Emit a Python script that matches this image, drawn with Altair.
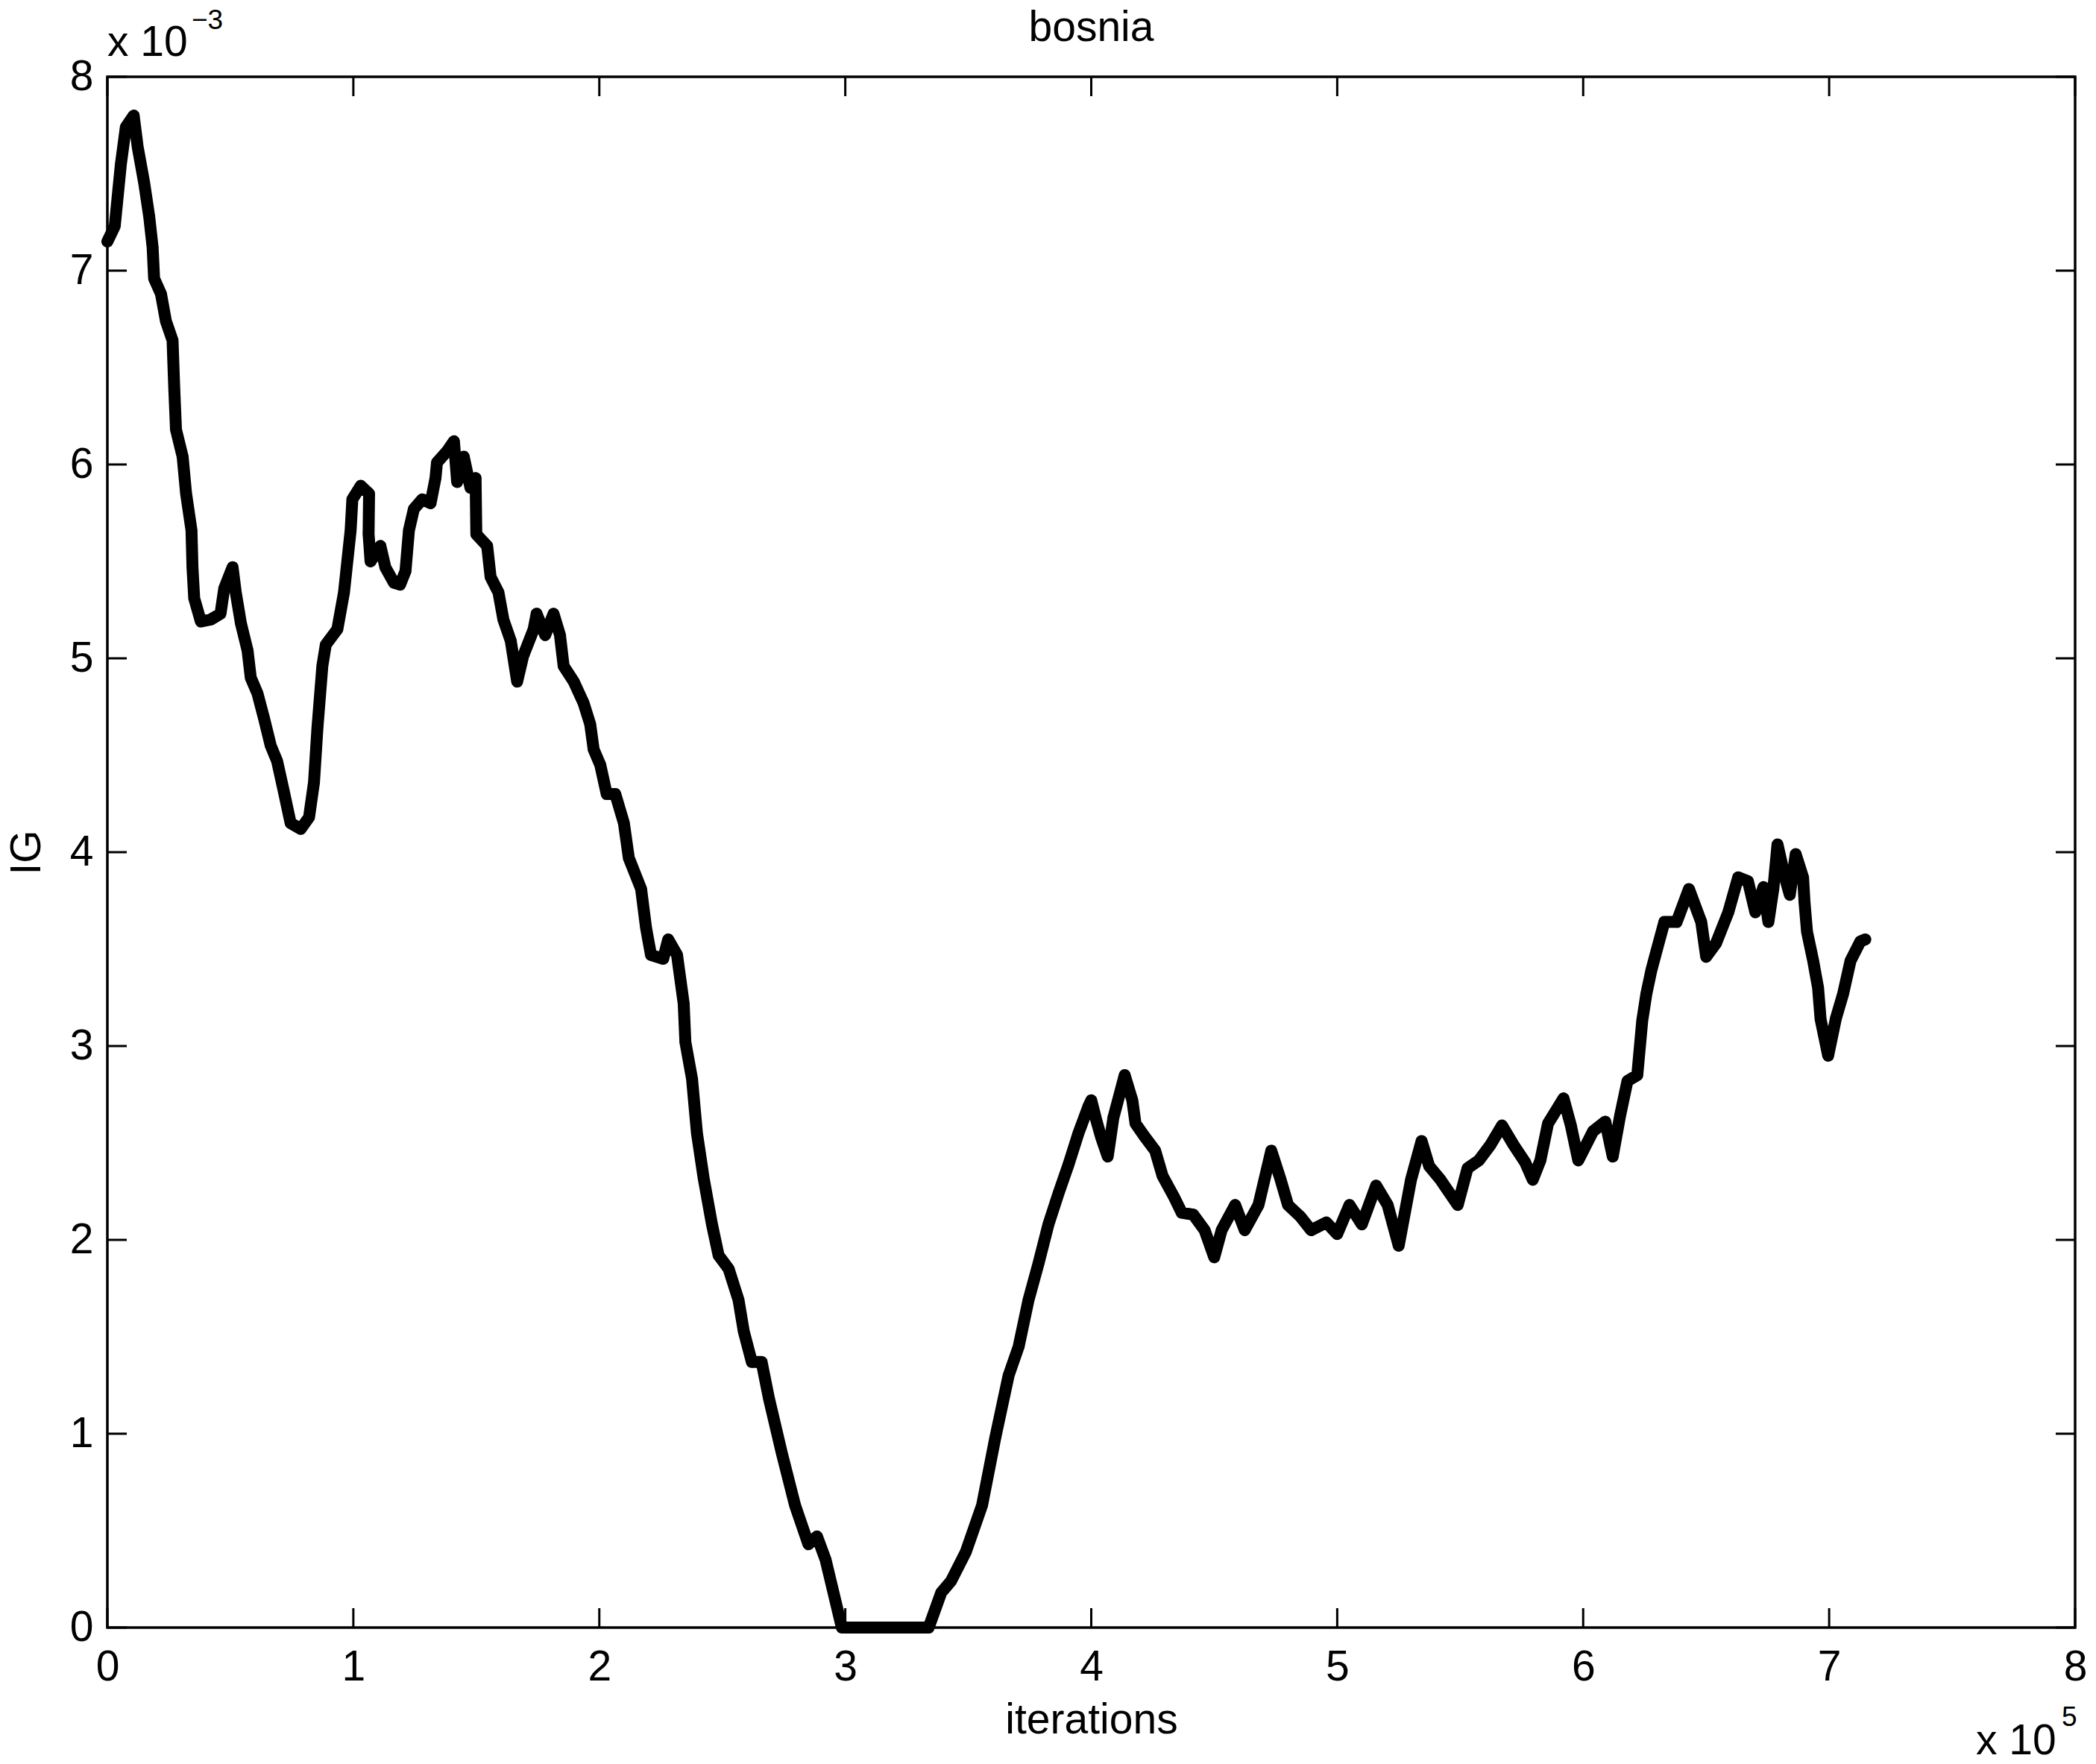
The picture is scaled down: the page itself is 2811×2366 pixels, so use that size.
import altair as alt
import pandas as pd

# iterations in units of 1e5, IG in units of 1e-3
iter_e5 = [0.0, 0.03, 0.055, 0.075, 0.107, 0.123, 0.15, 0.17, 0.184, 0.19, 0.218, 0.238, 0.265, 0.272,
           0.279, 0.306, 0.32, 0.342, 0.346, 0.353, 0.38, 0.42, 0.46, 0.475, 0.509, 0.522, 0.543, 0.57,
           0.583, 0.61, 0.637, 0.664, 0.69, 0.718, 0.745, 0.786, 0.82, 0.84, 0.854, 0.874, 0.888, 0.935,
           0.962, 0.989, 0.996, 1.03, 1.064, 1.062, 1.07, 1.11, 1.13, 1.165, 1.19, 1.212, 1.226, 1.246,
           1.28, 1.314, 1.334, 1.34, 1.382, 1.409, 1.422, 1.449, 1.476, 1.497, 1.5, 1.544, 1.558, 1.59,
           1.61, 1.64, 1.666, 1.69, 1.733, 1.745, 1.78, 1.814, 1.84, 1.855, 1.896, 1.936, 1.963, 1.977,
           2.004, 2.03, 2.065, 2.1, 2.12, 2.17, 2.19, 2.21, 2.26, 2.28, 2.316, 2.343, 2.35, 2.377, 2.397,
           2.424, 2.458, 2.485, 2.526, 2.566, 2.587, 2.62, 2.66, 2.69, 2.742, 2.796, 2.85, 2.885, 2.92,
           2.986, 3.339, 3.39, 3.43, 3.49, 3.556, 3.61, 3.664, 3.705, 3.745, 3.786, 3.826, 3.867, 3.908,
           3.948, 3.989, 4.0, 4.02, 4.04, 4.067, 4.09, 4.136, 4.167, 4.18, 4.213, 4.26, 4.29, 4.337,
           4.368, 4.415, 4.461, 4.5, 4.53, 4.585, 4.624, 4.68, 4.732, 4.77, 4.8, 4.85, 4.894, 4.956,
           5.0, 5.05, 5.1, 5.158, 5.205, 5.25, 5.3, 5.343, 5.374, 5.42, 5.49, 5.53, 5.576, 5.623, 5.67,
           5.717, 5.764, 5.795, 5.826, 5.857, 5.92, 5.95, 5.98, 6.04, 6.09, 6.12, 6.15, 6.18, 6.22,
           6.24, 6.257, 6.277, 6.298, 6.33, 6.38, 6.43, 6.48, 6.5, 6.54, 6.59, 6.63, 6.67, 6.7, 6.733,
           6.753, 6.773, 6.79, 6.82, 6.84, 6.864, 6.894, 6.9, 6.91, 6.935, 6.955, 6.965, 6.996, 7.027,
           7.057, 7.087, 7.127, 7.147]
ig_e3 = [7.15, 7.23, 7.55, 7.74, 7.8, 7.64, 7.45, 7.28, 7.12, 6.96, 6.88, 6.74, 6.64, 6.39,
         6.18, 6.04, 5.85, 5.66, 5.47, 5.31, 5.19, 5.2, 5.23, 5.36, 5.47, 5.34, 5.18, 5.04,
         4.9, 4.82, 4.69, 4.55, 4.47, 4.31, 4.15, 4.12, 4.18, 4.36, 4.64, 4.96, 5.07, 5.15,
         5.34, 5.66, 5.82, 5.89, 5.85, 5.64, 5.5, 5.58, 5.47, 5.39, 5.38, 5.45, 5.66, 5.77,
         5.82, 5.8, 5.93, 6.01, 6.07, 6.12, 5.91, 6.04, 5.88, 5.93, 5.64, 5.58, 5.42, 5.34,
         5.2, 5.09, 4.88, 5.01, 5.15, 5.23, 5.12, 5.23, 5.12, 4.96, 4.88, 4.77, 4.66, 4.53,
         4.45, 4.3, 4.3, 4.15, 3.97, 3.81, 3.61, 3.47, 3.45, 3.55, 3.47, 3.22, 3.02, 2.83, 2.55,
         2.32, 2.08, 1.92, 1.85, 1.69, 1.53, 1.37, 1.37, 1.18, 0.9, 0.63, 0.43, 0.47, 0.35,
         0.0, 0.0, 0.18, 0.24, 0.39, 0.63, 0.98, 1.3, 1.45, 1.69, 1.88, 2.08, 2.24, 2.39,
         2.55, 2.69, 2.72, 2.62, 2.53, 2.43, 2.63, 2.85, 2.72, 2.6, 2.54, 2.46, 2.33, 2.22,
         2.14, 2.13, 2.05, 1.91, 2.05, 2.18, 2.05, 2.18, 2.46, 2.31, 2.18, 2.12, 2.05, 2.09,
         2.03, 2.18, 2.08, 2.28, 2.18, 1.97, 2.31, 2.51, 2.38, 2.31, 2.18, 2.37, 2.41, 2.49, 2.59,
         2.49, 2.4, 2.31, 2.41, 2.6, 2.73, 2.59, 2.41, 2.56, 2.61, 2.43, 2.64, 2.82, 2.85,
         3.13, 3.27, 3.39, 3.49, 3.64, 3.64, 3.81, 3.64, 3.46, 3.53, 3.69, 3.87, 3.85, 3.69, 3.82,
         3.64, 3.81, 4.04, 3.87, 3.78, 3.99, 3.87, 3.74, 3.59, 3.44, 3.3, 3.14, 2.95, 3.14,
         3.27, 3.44, 3.54, 3.55]

x_ticks = [0, 1, 2, 3, 4, 5, 6, 7, 8]
y_ticks = [0, 1, 2, 3, 4, 5, 6, 7, 8]

W, H = 2639, 2080
FONT = "Liberation Sans"
FS = 57
TICK = 26

df = pd.DataFrame({"x": iter_e5, "y": ig_e3, "order": list(range(len(iter_e5)))})
xt = pd.DataFrame({"x": x_ticks})
yt = pd.DataFrame({"y": y_ticks})

xscale = alt.Scale(domain=[0, 8], nice=False, zero=False)
yscale = alt.Scale(domain=[0, 8], nice=False, zero=False)

x_axis = alt.Axis(values=x_ticks, ticks=False, tickSize=0, domain=False, grid=False,
                  labelFont=FONT, labelFontSize=FS, labelColor="black", labelPadding=25,
                  labelFlush=False, labelOverlap=False,
                  title="iterations", titleFont=FONT, titleFontSize=FS, titleFontWeight="normal",
                  titleColor="black", titleY=141, titleBaseline="alphabetic")
y_axis = alt.Axis(values=y_ticks, ticks=False, tickSize=0, domain=False, grid=False,
                  labelFont=FONT, labelFontSize=FS, labelColor="black", labelPadding=19,
                  labelFlush=False, labelOverlap=False,
                  title="IG", titleFont=FONT, titleFontSize=FS, titleFontWeight="normal",
                  titleColor="black", titleAngle=270, titleX=-91, titleY=H / 2,
                  titleBaseline="alphabetic", titleAlign="center")

X = alt.X("x:Q", scale=xscale, axis=x_axis)
Y = alt.Y("y:Q", scale=yscale, axis=y_axis)

line = alt.Chart(df).mark_line(color="black", strokeWidth=16, strokeCap="round",
                               strokeJoin="round").encode(x=X, y=Y, order="order:Q")
dots = alt.Chart(df).mark_circle(color="black", size=230, opacity=1).encode(x=X, y=Y)

top_ticks = alt.Chart(xt).mark_rule(color="black", strokeWidth=3).encode(
    x=X, y=alt.value(0), y2=alt.value(TICK))
bot_ticks = alt.Chart(xt).mark_rule(color="black", strokeWidth=3).encode(
    x=X, y=alt.value(H - TICK), y2=alt.value(H))
left_ticks = alt.Chart(yt).mark_rule(color="black", strokeWidth=3).encode(
    y=Y, x=alt.value(0), x2=alt.value(TICK))
right_ticks = alt.Chart(yt).mark_rule(color="black", strokeWidth=3).encode(
    y=Y, x=alt.value(W - TICK), x2=alt.value(W))

ann = pd.DataFrame({"t": [0]})
title = alt.Chart(ann).mark_text(text="bosnia", font=FONT, fontSize=FS, align="center",
                                 baseline="alphabetic", color="black").encode(
    x=alt.value(W / 2), y=alt.value(-48))
y_mult = alt.Chart(ann).mark_text(text="x 10", font=FONT, fontSize=FS, align="left",
                                  baseline="alphabetic", color="black").encode(
    x=alt.value(0), y=alt.value(-28))
y_exp = alt.Chart(ann).mark_text(text="\u22123", font=FONT, fontSize=37, align="left",
                                 baseline="alphabetic", color="black").encode(
    x=alt.value(113), y=alt.value(-64))
x_mult = alt.Chart(ann).mark_text(text="x 10", font=FONT, fontSize=FS, align="left",
                                  baseline="alphabetic", color="black").encode(
    x=alt.value(2506), y=alt.value(2250))
x_exp = alt.Chart(ann).mark_text(text="5", font=FONT, fontSize=37, align="left",
                                 baseline="alphabetic", color="black").encode(
    x=alt.value(2621), y=alt.value(2212))

chart = alt.layer(line, dots, top_ticks, bot_ticks, left_ticks, right_ticks,
                  title, y_mult, y_exp, x_mult, x_exp).properties(
    width=W, height=H,
    autosize=alt.AutoSizeParams(type="none"),
    padding={"left": 136, "top": 95, "right": 20, "bottom": 175},
).configure(
    background="white",
    view=alt.ViewConfig(stroke="black", strokeWidth=3.5),
)

chart.save("out.html", embed_options={"renderer": "svg", "actions": False})
